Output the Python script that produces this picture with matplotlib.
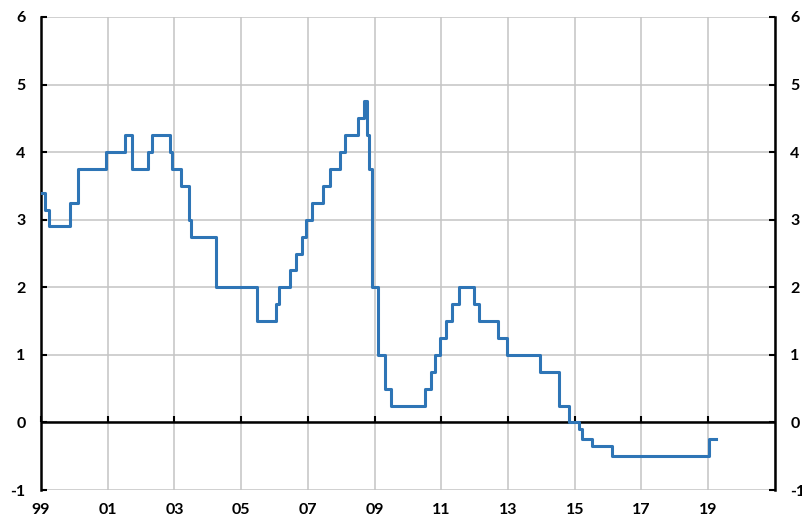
import numpy as np
import pandas as pd
import matplotlib
matplotlib.use("Agg")
import matplotlib.pyplot as plt
from matplotlib.font_manager import FontProperties

plt.rcParams["axes.unicode_minus"] = False

# policy rate decisions (date the new rate applies, rate in %)
dates = ["1999-01-01", "1999-02-17", "1999-03-31", "1999-11-17", "2000-02-09",
         "2000-12-13", "2001-07-06", "2001-09-19", "2002-03-20", "2002-04-26",
         "2002-11-15", "2002-12-06", "2003-03-18", "2003-06-05", "2003-07-04",
         "2004-03-31", "2004-04-01", "2005-06-21", "2006-01-20", "2006-02-23",
         "2006-06-20", "2006-08-30", "2006-10-26", "2006-12-14", "2007-02-15",
         "2007-06-20", "2007-09-05", "2007-12-19", "2008-02-13", "2008-07-03",
         "2008-09-03", "2008-10-08", "2008-10-29", "2008-12-03", "2009-02-11",
         "2009-04-22", "2009-07-01", "2010-07-07", "2010-09-08", "2010-10-27",
         "2010-12-21", "2011-02-22", "2011-04-26", "2011-07-12", "2011-12-21",
         "2012-02-22", "2012-09-12", "2012-12-19", "2013-12-18", "2014-07-09",
         "2014-10-29", "2015-02-18", "2015-03-25", "2015-07-08", "2016-02-17",
         "2019-01-09", "2019-03-31"]
rates = [3.40, 3.15, 2.90, 3.25, 3.75,
         4.00, 4.25, 3.75, 4.00, 4.25,
         4.00, 3.75, 3.50, 3.00, 2.75,
         2.50, 2.00, 1.50, 1.75, 2.00,
         2.25, 2.50, 2.75, 3.00, 3.25,
         3.50, 3.75, 4.00, 4.25, 4.50,
         4.75, 4.25, 3.75, 2.00, 1.00,
         0.50, 0.25, 0.50, 0.75, 1.00,
         1.25, 1.50, 1.75, 2.00, 1.75,
         1.50, 1.25, 1.00, 0.75, 0.25,
         0.00, -0.10, -0.25, -0.35, -0.50,
         -0.25, -0.25]

tick_years = list(range(1999, 2021, 2))
tick_labels = ["99", "01", "03", "05", "07", "09", "11", "13", "15", "17", "19"]
y_ticks = list(range(-1, 7))

d = pd.to_datetime(dates)
xs = d.year + (d.dayofyear - 1) / 365.25

fig = plt.figure(figsize=(8.03, 5.23), dpi=100)
ax = fig.add_axes([0.051, 0.063, 0.914, 0.9045])

ax.step(xs, rates, where="post", color="#2E75B6", lw=2.2, zorder=3)

ax.set_xlim(1999, 2021)
ax.set_ylim(-1, 6)
ax.set_xticks(tick_years)
ax.set_xticklabels(tick_labels)
ax.set_yticks(y_ticks)

# grid
for x in tick_years + [2021]:
    ax.axvline(x, color="#C4C4C4", lw=1.1, zorder=0)
for y in y_ticks:
    ax.axhline(y, color="#C4C4C4", lw=1.1, zorder=0)
ax.axhline(0, color="black", lw=1.8, zorder=2)

for s in ["top", "bottom"]:
    ax.spines[s].set_visible(False)
for s in ["left", "right"]:
    ax.spines[s].set_linewidth(1.8)
    ax.spines[s].set_color("black")

fp = FontProperties(family="Lato", weight="bold", size=11.5)
ax.tick_params(axis="x", length=0, pad=9)
ax.tick_params(axis="y", direction="in", length=4, width=1.5, pad=11,
               left=True, right=True, labelleft=True, labelright=True)
for lab in ax.get_xticklabels():
    lab.set_fontproperties(fp)
for t in ax.yaxis.get_major_ticks():
    t.label1.set_fontproperties(fp)
    t.label2.set_fontproperties(fp)

# small tick marks on the zero line
sec = ax.secondary_xaxis(1 / 7)
sec.set_xticks(tick_years)
sec.tick_params(direction="in", length=4, width=1.5, labelbottom=False)
sec.spines["bottom"].set_visible(False)

fig.savefig("out.png", dpi=100)
